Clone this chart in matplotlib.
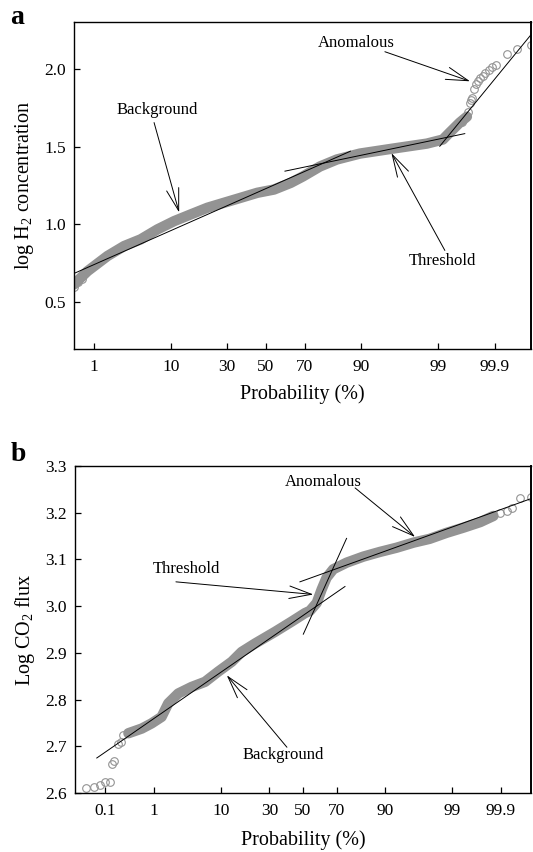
import numpy as np
import matplotlib
matplotlib.use('Agg')
import matplotlib.pyplot as plt
from statistics import NormalDist

plt.rcParams['font.family'] = ['Liberation Serif', 'DejaVu Serif']
plt.rcParams['mathtext.fontset'] = 'custom'
plt.rcParams['mathtext.rm'] = 'Liberation Serif'
plt.rcParams['mathtext.it'] = 'Liberation Serif:italic'
plt.rcParams['mathtext.bf'] = 'Liberation Serif:bold'

# ---- panel a : log H2 concentration vs cumulative probability (%) ----
h2_band_p = [0.47, 0.79, 1.6, 2.75, 4.5, 7.1, 10.7, 15.4, 21.4, 28.5, 36.6, 45.3,
             54.3, 63.1, 69.1, 76.7, 83.1, 89.8, 95.7, 98.52, 99.16, 99.35, 99.56, 99.67]
h2_band_v = [0.615, 0.70, 0.797, 0.861, 0.904, 0.968, 1.021, 1.064, 1.107, 1.139, 1.171, 1.203,
             1.224, 1.267, 1.308, 1.372, 1.417, 1.455, 1.487, 1.519, 1.545, 1.59, 1.654, 1.692]
h2_tail_p = [0.47, 0.55, 0.65, 99.60, 99.68, 99.71, 99.72, 99.73, 99.75, 99.77, 99.79, 99.81,
             99.83, 99.85, 99.87, 99.89, 99.906, 99.944, 99.965, 99.983]
h2_tail_v = [0.60, 0.63, 0.65, 1.66, 1.72, 1.782, 1.80, 1.814, 1.872, 1.90, 1.923, 1.94,
             1.955, 1.975, 1.994, 2.01, 2.026, 2.096, 2.128, 2.154]
# fitted segments (probability %, value)
h2_lines = [([0.47, 87.3], [0.685, 1.47]),      # background
            ([60.1, 99.64], [1.342, 1.583]),    # threshold
            ([99.06, 99.983], [1.502, 2.218])]  # anomalous
# label, text pos, arrow tail, arrow tip
h2_notes = [('Background', (7.04, 1.737), (6.5, 1.654), (12.0, 1.077)),
            ('Anomalous', (88.8, 2.165), (94.6, 2.109), (99.71, 1.919)),
            ('Threshold', (99.16, 0.765), (99.22, 0.833), (95.5, 1.458))]

# ---- panel b : log CO2 flux vs cumulative probability (%) ----
co2_band_p = [0.32, 0.59, 0.90, 1.36, 1.77, 2.57, 4.09, 6.3, 9.3, 13.3, 16.9, 22.7, 33.1,
              43.0, 51.2, 54.3, 58.5, 61.5, 64.4, 68.2, 75.2, 82.7, 88.5, 92.8, 95.8, 97.6,
              98.76, 99.39, 99.72, 99.853]
co2_band_v = [2.728, 2.738, 2.749, 2.763, 2.792, 2.813, 2.827, 2.838, 2.860, 2.881, 2.902,
              2.920, 2.945, 2.967, 2.985, 2.99, 3.007, 3.036, 3.061, 3.079, 3.093, 3.106,
              3.116, 3.125, 3.136, 3.144, 3.157, 3.168, 3.18, 3.193]
co2_tail_p = [0.036, 0.056, 0.076, 0.099, 0.128, 0.14, 0.16, 0.195, 0.226, 0.25, 0.317,
              99.897, 99.926, 99.944, 99.964, 99.981]
co2_tail_v = [2.610, 2.612, 2.618, 2.623, 2.623, 2.662, 2.669, 2.704, 2.709, 2.724, 2.728,
              3.20, 3.204, 3.211, 3.232, 3.234]
co2_lines = [([0.064, 74.4], [2.675, 3.042]),   # background
             ([50.2, 75.2], [2.940, 3.145]),    # threshold
             ([48.1, 99.98], [3.052, 3.229])]   # anomalous
co2_notes = [('Threshold', (3.38, 3.079), (2.36, 3.052), (56.4, 3.025)),
             ('Anomalous', (62.7, 3.266), (79.2, 3.253), (96.0, 3.148)),
             ('Background', (38.0, 2.681), (40.1, 2.698), (11.7, 2.852))]

prob_ticks = [0.1, 1, 10, 30, 50, 70, 90, 99, 99.9]

nd = NormalDist()


def fwd(p):
    # probability (%) -> normal score
    p = np.clip(np.asarray(p, dtype=float) / 100.0, 1e-9, 1 - 1e-9)
    return np.vectorize(nd.inv_cdf, otypes=[float])(p)


def inv(z):
    return np.vectorize(nd.cdf, otypes=[float])(np.asarray(z, dtype=float)) * 100.0


GRAY = '#939393'

fig = plt.figure(figsize=(5.33, 8.52), dpi=100)
ax_a = fig.add_axes([0.1388, 0.5904, 0.8574, 0.3838])
ax_b = fig.add_axes([0.1407, 0.0692, 0.8555, 0.3839])


def draw(ax, band_p, band_v, tail_p, tail_v, lines, notes, xlim, ylim, yticks, ylabel, xticks, xlpad):
    ax.set_xscale('function', functions=(fwd, inv))
    ax.plot(band_p, band_v, color=GRAY, lw=7.5, solid_capstyle='round',
            solid_joinstyle='round', zorder=2)
    ax.plot(tail_p, tail_v, 'o', mfc='none', mec=GRAY, ms=5.5, mew=0.8, zorder=2)
    for xs, ys in lines:
        ax.plot(xs, ys, color='black', lw=0.7, zorder=3)
    for label, txt, tail, tip in notes:
        ax.annotate('', xy=tip, xytext=tail,
                    arrowprops=dict(arrowstyle='->,head_length=1.6,head_width=0.45',
                                    lw=0.7, color='black', shrinkA=0, shrinkB=0,
                                    mutation_scale=10))
        ax.text(txt[0], txt[1], label, ha='center', va='center', fontsize=12)
    ax.set_xlim(*xlim)
    ax.set_ylim(*ylim)
    ax.set_xticks(xticks)
    ax.set_xticklabels([('%g' % t) for t in xticks])
    ax.minorticks_off()
    ax.set_yticks(yticks)
    ax.set_yticklabels(['%.1f' % t for t in yticks])
    ax.tick_params(direction='in', length=4.5, width=0.9, labelsize=12.5, pad=6,
                   top=False, right=False)
    ax.tick_params(axis='x', pad=7)
    for s in ax.spines.values():
        s.set_linewidth(1.0)
    ax.spines['right'].set_linewidth(1.4)
    ax.set_xlabel('Probability (%)', fontsize=14.5, labelpad=xlpad)
    ax.set_ylabel(ylabel, fontsize=14.5, labelpad=6)


draw(ax_a, h2_band_p, h2_band_v, h2_tail_p, h2_tail_v, h2_lines, h2_notes,
     (0.47, 99.983), (0.2, 2.3), [0.5, 1.0, 1.5, 2.0],
     'log H$_2$ concentration', prob_ticks[1:], 7)
draw(ax_b, co2_band_p, co2_band_v, co2_tail_p, co2_tail_v, co2_lines, co2_notes,
     (0.0185, 99.9815), (2.6, 3.3), [2.6, 2.7, 2.8, 2.9, 3.0, 3.1, 3.2, 3.3],
     'Log CO$_2$ flux', prob_ticks, 8)

fig.text(0.032, 0.980, 'a', fontsize=20, fontweight='bold', ha='center', va='center')
fig.text(0.034, 0.467, 'b', fontsize=20, fontweight='bold', ha='center', va='center')

fig.savefig('out.png', dpi=100)
